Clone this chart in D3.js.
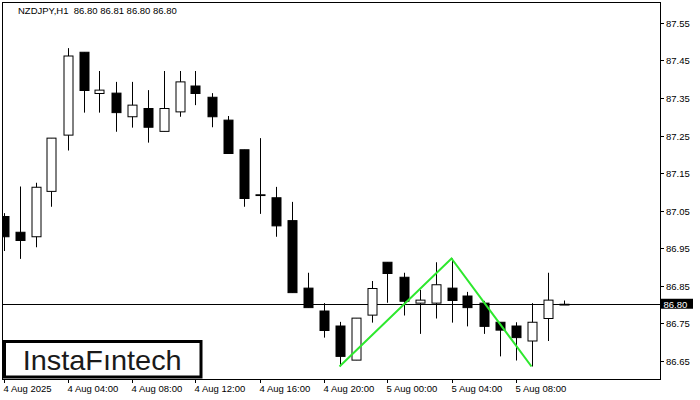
<!DOCTYPE html>
<html>
<head>
<meta charset="utf-8">
<script src="https://cdn.jsdelivr.net/npm/d3@7"></script>
<style>
  html, body { margin: 0; padding: 0; background: #fff; }
  svg { display: block; }
  text { font-family: "Liberation Sans", Arial, sans-serif; white-space: pre; }
</style>
</head>
<body>
<svg id="chart" width="700" height="400"></svg>
<script>
// ---- Data (NZDJPY, H1, from 4 Aug 2025 00:00) ----
const openP  = [87.034, 86.992, 86.980, 87.101, 87.251, 87.472, 87.362, 87.363, 87.300, 87.322,
                87.261, 87.313, 87.382, 87.352, 87.291, 87.212, 87.091, 87.084, 87.023, 86.843,
                86.782, 86.742, 86.651, 86.771, 86.912, 86.872, 86.803, 86.803, 86.843, 86.822,
                86.803, 86.752, 86.742, 86.702, 86.762, 86.800];
const highP  = [87.043, 87.114, 87.124, 87.243, 87.483, 87.472, 87.422, 87.393, 87.393, 87.371,
                87.422, 87.422, 87.422, 87.363, 87.302, 87.212, 87.243, 87.113, 87.073, 86.884,
                86.803, 86.753, 86.763, 86.862, 86.912, 86.884, 86.838, 86.912, 86.922, 86.833,
                86.809, 86.752, 86.752, 86.803, 86.884, 86.810];
const lowP   = [86.942, 86.921, 86.952, 87.060, 87.210, 87.311, 87.311, 87.260, 87.271, 87.231,
                87.261, 87.300, 87.331, 87.272, 87.202, 87.060, 87.041, 86.980, 86.831, 86.791,
                86.711, 86.634, 86.651, 86.751, 86.804, 86.770, 86.721, 86.762, 86.751, 86.741,
                86.721, 86.661, 86.650, 86.634, 86.702, 86.800];
const closeP = [86.980, 86.970, 87.112, 87.243, 87.462, 87.370, 87.371, 87.311, 87.331, 87.272,
                87.322, 87.393, 87.362, 87.300, 87.202, 87.082, 87.092, 87.009, 86.831, 86.791,
                86.730, 86.661, 86.763, 86.842, 86.882, 86.808, 86.811, 86.852, 86.810, 86.791,
                86.741, 86.731, 86.711, 86.752, 86.811, 86.800];

const xTickIdx    = [0, 4, 8, 12, 16, 20, 24, 28, 32];
const xTickLabels = ["4 Aug 2025", "4 Aug 04:00", "4 Aug 08:00", "4 Aug 12:00", "4 Aug 16:00",
                     "4 Aug 20:00", "5 Aug 00:00", "5 Aug 04:00", "5 Aug 08:00"];
const yTickValues = [86.65, 86.75, 86.85, 86.95, 87.05, 87.15, 87.25, 87.35, 87.45, 87.55];
const lastPrice = 86.80;
const titleText = "NZDJPY,H1  86.80 86.81 86.80 86.80";

// pattern (double top) points: [candle index, price]
const patternIdx    = [21, 28, 33];
const patternPrices = [86.634, 86.922, 86.634];

// ---- Layout ----
const plot = { left: 3, right: 660, top: 3, bottom: 379 };
const svg = d3.select("#chart");

const x = d3.scaleLinear().domain([0, 41]).range([3.5, 659.5]);
const y = d3.scaleLinear().domain([86.65, 87.55]).range([360.5, 23]);

const candles = openP.map((o, i) => ({ i, o, h: highP[i], l: lowP[i], c: closeP[i] }));

svg.append("defs").append("clipPath").attr("id", "plotClip")
  .append("rect")
  .attr("x", plot.left).attr("y", plot.top)
  .attr("width", plot.right - plot.left).attr("height", plot.bottom - plot.top);

const g = svg.append("g").attr("clip-path", "url(#plotClip)");

// last price line
g.append("line")
  .attr("x1", plot.left).attr("x2", plot.right)
  .attr("y1", Math.round(y(lastPrice)) + 0.5).attr("y2", Math.round(y(lastPrice)) + 0.5)
  .attr("stroke", "#000").attr("stroke-width", 1);

const cg = g.append("g").selectAll("g").data(candles).join("g");
const px = d => Math.round(x(d.i)) + 0.5;

cg.append("line")
  .attr("x1", px).attr("x2", px)
  .attr("y1", d => y(d.h)).attr("y2", d => y(d.l))
  .attr("stroke", "#000").attr("stroke-width", 1);

const bw = 9;
cg.append("rect")
  .attr("x", d => px(d) - bw / 2)
  .attr("width", bw)
  .attr("y", d => Math.min(y(d.o), y(d.c)))
  .attr("height", d => Math.max(0.8, Math.abs(y(d.o) - y(d.c))))
  .attr("fill", d => d.c >= d.o ? "#fff" : "#000")
  .attr("stroke", "#000").attr("stroke-width", 1);

// pattern line
const patternPts = patternIdx.map((idx, k) => [x(idx), y(patternPrices[k])]);
g.append("path")
  .attr("d", d3.line()(patternPts))
  .attr("fill", "none")
  .attr("stroke", "#2ee82e")
  .attr("stroke-width", 2)
  .attr("stroke-linejoin", "miter");

// frame
svg.append("rect")
  .attr("x", plot.left - 0.5).attr("y", plot.top - 0.5)
  .attr("width", plot.right - plot.left + 1).attr("height", plot.bottom - plot.top + 1)
  .attr("fill", "none").attr("stroke", "#000").attr("stroke-width", 1);

// right axis
const ya = svg.append("g");
yTickValues.forEach(v => {
  const yy = Math.round(y(v)) + 0.5;
  ya.append("line").attr("x1", plot.right).attr("x2", plot.right + 4)
    .attr("y1", yy).attr("y2", yy).attr("stroke", "#000");
  ya.append("text").attr("x", plot.right + 6).attr("y", yy + 3.5)
    .attr("font-size", 9.5).attr("fill", "#000").text(d3.format(".2f")(v));
});

// last price label
const ly = y(lastPrice);
svg.append("rect").attr("x", plot.right + 1).attr("y", ly - 5.5)
  .attr("width", 32).attr("height", 10).attr("fill", "#000");
svg.append("text").attr("x", plot.right + 3.5).attr("y", ly + 3.5)
  .attr("font-size", 9.5).attr("fill", "#fff").text(d3.format(".2f")(lastPrice));

// bottom axis
const xa = svg.append("g");
xTickIdx.forEach((idx, k) => {
  const xx = Math.round(x(idx)) + 0.5;
  xa.append("line").attr("x1", xx).attr("x2", xx)
    .attr("y1", plot.bottom).attr("y2", plot.bottom + 4).attr("stroke", "#000");
  xa.append("text").attr("x", xx - 1).attr("y", 392)
    .attr("font-size", 9.5).attr("fill", "#000").text(xTickLabels[k]);
});

// title
svg.append("text").attr("x", 18).attr("y", 13.5)
  .attr("font-size", 9.5).attr("fill", "#000").text(titleText);

// logo
svg.append("rect").attr("x", 4.5).attr("y", 341.5).attr("width", 196.5).attr("height", 35.5)
  .attr("fill", "#fff").attr("stroke", "#000").attr("stroke-width", 3);
svg.append("text").attr("x", 22.7).attr("y", 370)
  .attr("font-family", "Inter, 'Open Sans', sans-serif")
  .attr("font-weight", 500)
  .attr("font-size", 28)
  .attr("fill", "#1a1a1a")
  .attr("textLength", 159).attr("lengthAdjust", "spacingAndGlyphs")
  .text("InstaFıntech");
</script>
</body>
</html>
